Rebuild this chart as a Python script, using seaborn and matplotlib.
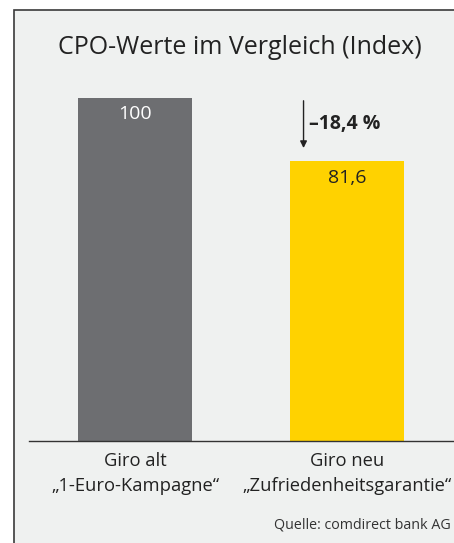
import matplotlib
matplotlib.use("Agg")
import matplotlib.pyplot as plt
import seaborn as sns
import pandas as pd
from matplotlib.patches import Rectangle

categories = ["Giro alt\n\u201e1-Euro-Kampagne\u201c", "Giro neu\n\u201eZufriedenheitsgarantie\u201c"]
values = [100, 81.6]
value_labels = ["100", "81,6"]
bar_colors = ["#6d6e71", "#ffd200"]
change_label = "\u201318,4 %"

df = pd.DataFrame({"cat": categories, "val": values})

sns.set_style("white")
plt.rcParams["font.family"] = ["Open Sans", "DejaVu Sans"]

bg = "#eff1f0"
fig = plt.figure(figsize=(4.54, 5.43), dpi=100)
fig.patch.set_facecolor("white")
frame = Rectangle((14 / 454, -0.01), 1, 1.01 - 10 / 543, transform=fig.transFigure,
                  facecolor=bg, edgecolor="#3a3a3a", lw=1.2, zorder=-5)
fig.add_artist(frame)

ax = fig.add_axes([29 / 454, 102 / 543, 424 / 454, 343 / 543])
ax.set_zorder(2)
ax.set_facecolor("none")
sns.barplot(data=df, x="cat", y="val", hue="cat", palette=bar_colors, width=0.54,
            legend=False, ax=ax, saturation=1, linewidth=0, edgecolor="none")
ax.set_xlim(-0.5, 1.5)
ax.set_ylim(0, 100)
ax.set_xlabel("")
ax.set_ylabel("")
ax.set_yticks([])
ax.set_xticks([0.5])
ax.set_xticklabels([""])
ax.tick_params(axis="x", direction="out", length=7, width=1, color="#333333")
for s in ["top", "right", "left"]:
    ax.spines[s].set_visible(False)
ax.spines["bottom"].set_color("#333333")
ax.spines["bottom"].set_linewidth(1)

# category labels
for i, c in enumerate(categories):
    ax.text(i, -3.3, c, ha="center", va="top", fontsize=13.2, color="#222222",
            linespacing=1.5, clip_on=False)

# value labels
ax.text(0, values[0] - 4.8, value_labels[0], ha="center", va="center", fontsize=14, color="white")
ax.text(1, values[1] - 4.8, value_labels[1], ha="center", va="center", fontsize=14, color="#222222")

# change arrow
ax.annotate("", xy=(0.795, values[1] + 3), xytext=(0.795, values[0]),
            arrowprops=dict(arrowstyle="-|>", color="#222222", lw=1, mutation_scale=10))
ax.text(0.82, 92.5, change_label, ha="left", va="center", fontsize=14,
        fontweight="bold", color="#222222")

fig.text(240 / 454, 1 - 48 / 543, "CPO-Werte im Vergleich (Index)", ha="center", va="center",
         fontsize=18, color="#222222")
fig.text(451 / 454, 1 - 525 / 543, "Quelle: comdirect bank AG", ha="right", va="center",
         fontsize=10.3, color="#333333")

fig.savefig("out.png", dpi=100, facecolor=fig.get_facecolor())
